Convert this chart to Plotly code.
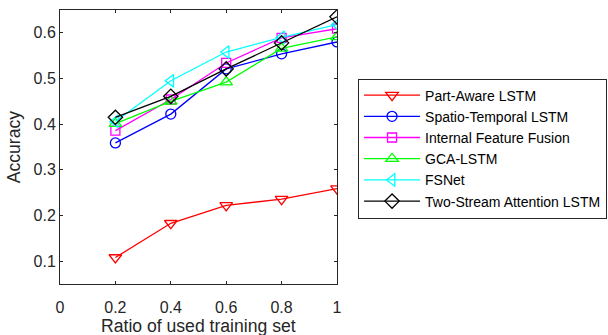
import plotly.graph_objects as go

ratios = [0.2, 0.4, 0.6, 0.8, 1.0]
part_aware = [0.108, 0.183, 0.222, 0.236, 0.259]
spatio_temporal = [0.359, 0.422, 0.521, 0.554, 0.580]
internal_fusion = [0.386, 0.454, 0.534, 0.589, 0.609]
gca_lstm = [0.401, 0.450, 0.492, 0.566, 0.591]
fsnet = [0.406, 0.495, 0.558, 0.590, 0.618]
two_stream = [0.415, 0.461, 0.521, 0.578, 0.635]

names = ["Part-Aware LSTM", "Spatio-Temporal LSTM", "Internal Feature Fusion",
         "GCA-LSTM", "FSNet", "Two-Stream Attention LSTM"]
series = [part_aware, spatio_temporal, internal_fusion, gca_lstm, fsnet, two_stream]
colors = ["#FF0000", "#0000FF", "#FF00FF", "#00FF00", "#00FFFF", "#000000"]
symbols = ["triangle-down-open", "circle-open", "square-open",
           "triangle-up-open", "triangle-left-open", "diamond-open"]
sizes = [11, 10, 9, 11, 11, 11]

x_ticks = [0, 0.2, 0.4, 0.6, 0.8, 1]
x_ticklabels = ["0", "0.2", "0.4", "0.6", "0.8", "1"]
y_ticks = [0.1, 0.2, 0.3, 0.4, 0.5, 0.6]
y_ticklabels = ["0.1", "0.2", "0.3", "0.4", "0.5", "0.6"]

FONT = "Liberation Sans, Arial, Helvetica, sans-serif"
AX = "#262626"

fig = go.Figure()
for n, s, c, sym, sz in zip(names, series, colors, symbols, sizes):
    fig.add_trace(go.Scatter(
        x=ratios, y=s, name=n, mode="lines+markers",
        line=dict(color=c, width=1.3),
        marker=dict(symbol=sym, size=sz, color=c, line=dict(color=c, width=1.3)),
    ))

axis_common = dict(
    showline=True, linecolor=AX, linewidth=1, mirror="ticks",
    ticks="inside", ticklen=3, tickcolor=AX, tickwidth=1,
    showgrid=False, zeroline=False,
    tickfont=dict(family=FONT, size=16, color=AX),
)

fig.update_layout(
    width=608, height=335,
    margin=dict(l=60, r=271, t=10, b=51, autoexpand=False),
    paper_bgcolor="white", plot_bgcolor="white",
    font=dict(family=FONT, color=AX),
    xaxis=dict(range=[0, 1], tickvals=x_ticks, ticktext=x_ticklabels,
               ticklabelstandoff=9, automargin=False, **axis_common),
    yaxis=dict(range=[0.05, 0.65], tickvals=y_ticks, ticktext=y_ticklabels,
               automargin=False, **axis_common),
    legend=dict(
        x=1.076, y=0.75, xanchor="left", yanchor="top",
        bordercolor=AX, borderwidth=1, bgcolor="white",
        font=dict(family=FONT, size=14, color="#000000"),
        itemwidth=56, tracegroupgap=0,
    ),
    annotations=[
        dict(text="Ratio of used training set", xref="paper", yref="paper",
             x=0.5, y=-0.153, xanchor="center", yanchor="middle", showarrow=False,
             font=dict(family=FONT, size=17.6, color=AX)),
        dict(text="Accuracy", xref="paper", yref="paper", textangle=-90,
             x=-0.165, y=0.5, xanchor="center", yanchor="middle", showarrow=False,
             font=dict(family=FONT, size=17.6, color=AX)),
    ],
)

fig.write_html("out.html", config={"responsive": False, "displayModeBar": False},
               post_script="document.body.style.margin='0';document.body.style.padding='0';")
